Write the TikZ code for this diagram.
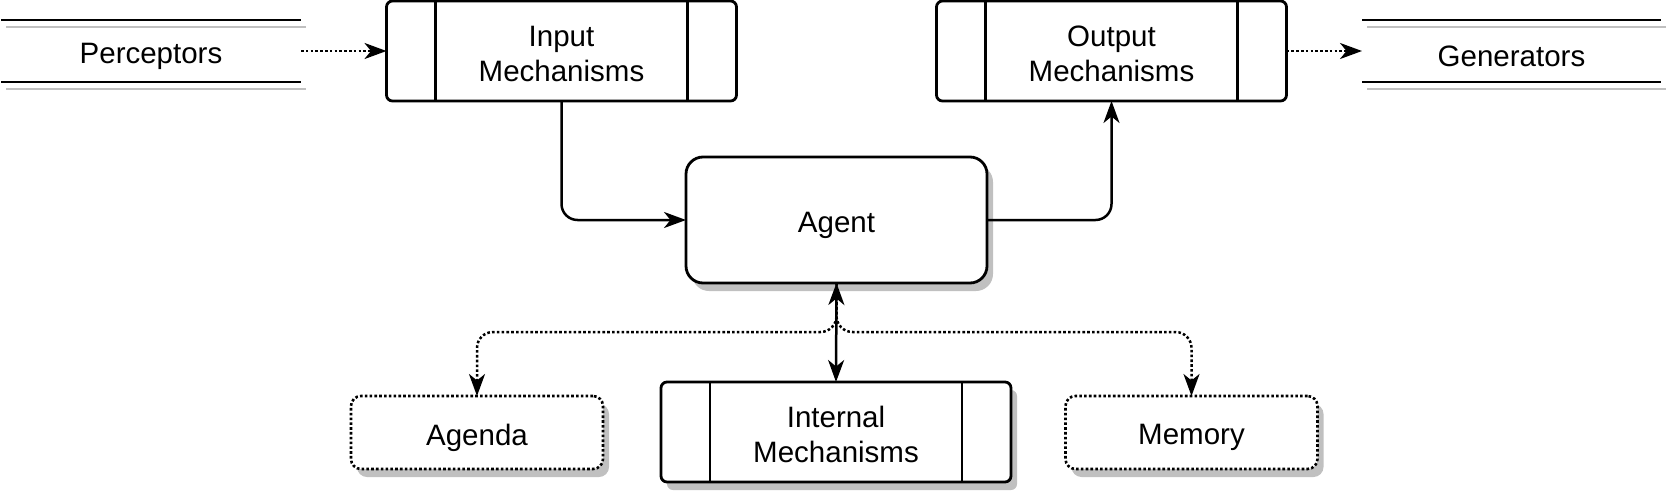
\documentclass[tikz,border=0pt]{standalone}
\usepackage{fontspec}
\setmainfont{Liberation Sans}
\usetikzlibrary{arrows.meta,shadows}
\definecolor{shgray}{RGB}{192,192,192}
\begin{document}
\begin{tikzpicture}[x=1pt,y=-1pt,
  every node/.style={font=\fontsize{29.5pt}{35pt}\selectfont, align=center, outer sep=0pt, inner sep=0pt},
  txt/.style={label={[yshift=-5pt]center:#1}},
  txttwo/.style={label={[yshift=-2.5pt]center:#1}},
  box/.style={draw, line width=2.8pt, fill=white},
  shad/.style={drop shadow={shadow xshift=6pt, shadow yshift=-8pt, fill=shgray, opacity=1}},
  procbox/.style={box, rounded corners=6pt, minimum width=350pt, minimum height=100pt},
  agentbox/.style={box, rounded corners=17pt, minimum width=301pt, minimum height=126pt, shad},
  memobox/.style={box, rounded corners=10pt, dash pattern=on 2.6pt off 2.2pt, line width=2.6pt, minimum width=252pt, minimum height=73pt, shad},
  storenode/.style={minimum width=300pt, minimum height=62pt},
  storeline/.style={line width=2.8pt},
  storeshadow/.style={line width=2.8pt, draw=shgray},
  partline/.style={line width=2.8pt},
  tip/.tip={Stealth[length=22pt,width=16pt,inset=6.5pt]},
  conn/.style={line width=2.5pt, rounded corners=16pt, -tip},
  dotconn/.style={conn, dash pattern=on 2.6pt off 2.2pt},
]
\useasboundingbox (0,0) rectangle (1670,493);

% Perceptors
\node[storenode, txt={Perceptors}] (perc) at (151,51) {};
\draw[storeshadow] ([xshift=5pt,yshift=-7pt]perc.north west) -- ([xshift=5pt,yshift=-7pt]perc.north east);
\draw[storeshadow] ([xshift=5pt,yshift=-7pt]perc.south west) -- ([xshift=5pt,yshift=-7pt]perc.south east);
\draw[storeline] (perc.north west) -- (perc.north east);
\draw[storeline] (perc.south west) -- (perc.south east);

% Generators
\node[storenode, minimum width=299pt, txt={Generators}] (gen) at (1511.5,51) {};
\draw[storeshadow] ([xshift=5pt,yshift=-7pt]gen.north west) -- ([xshift=5pt,yshift=-7pt]gen.north east);
\draw[storeshadow] ([xshift=5pt,yshift=-7pt]gen.south west) -- ([xshift=5pt,yshift=-7pt]gen.south east);
\draw[storeline] (gen.north west) -- (gen.north east);
\draw[storeline] (gen.south west) -- (gen.south east);

% Input / Output mechanisms
\node[procbox, txttwo={Input\\Mechanisms}] (inp) at (561.5,51) {};
\draw[partline] ([xshift=49pt]inp.north west) -- ([xshift=49pt]inp.south west);
\draw[partline] ([xshift=-49pt]inp.north east) -- ([xshift=-49pt]inp.south east);

\node[procbox, txttwo={Output\\Mechanisms}] (out) at (1111.5,51) {};
\draw[partline] ([xshift=49pt]out.north west) -- ([xshift=49pt]out.south west);
\draw[partline] ([xshift=-49pt]out.north east) -- ([xshift=-49pt]out.south east);

% Agent
\node[agentbox, txt={Agent}] (agent) at (836.5,220) {};

% Bottom row
\node[memobox, txt={Agenda}] (agenda) at (477,432.5) {};
\node[procbox, shad, txttwo={Internal\\Mechanisms}] (int) at (836,432) {};
\draw[partline] ([xshift=49pt]int.north west) -- ([xshift=49pt]int.south west);
\draw[partline] ([xshift=-49pt]int.north east) -- ([xshift=-49pt]int.south east);
\node[memobox, txt={Memory}] (mem) at (1191.5,432.5) {};

% Connectors
\draw[dotconn] (perc.east) -- (inp.west);
\draw[dotconn] (out.east) -- (gen.west);
\draw[conn] (inp.south) |- (agent.west);
\draw[conn] (agent.east) -| (out.south);
\draw[dotconn] (agent.south) -- ++(0,49) -| (agenda.north);
\draw[dotconn] (agent.south) -- ++(0,49) -| (mem.north);
\draw[conn, tip-tip] (agent.south) -- (int.north);
\end{tikzpicture}
\end{document}
